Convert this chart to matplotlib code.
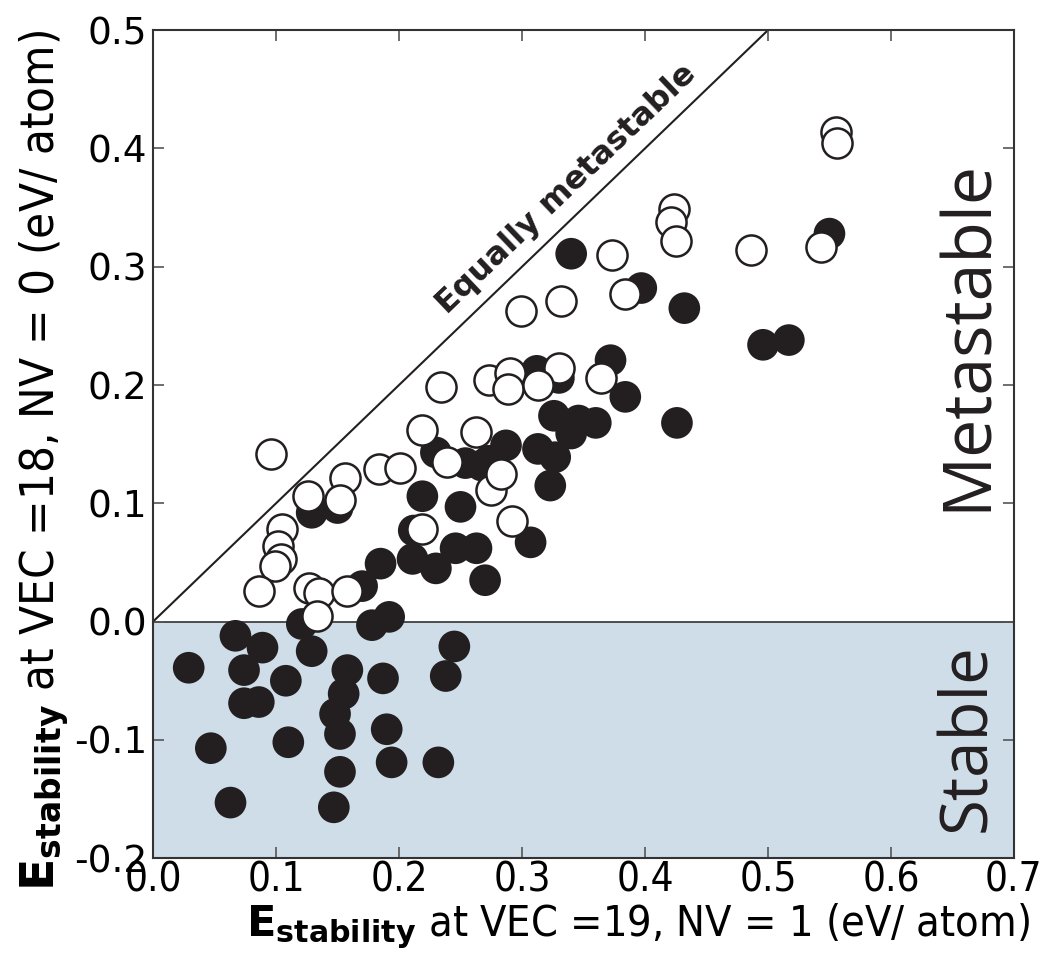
"""Scatter of E_stability at two VEC settings, with stable / metastable regions."""

import matplotlib
matplotlib.use("Agg")
import matplotlib.pyplot as plt

plt.rcParams["axes.unicode_minus"] = False
plt.rcParams["mathtext.fontset"] = "dejavusans"

# filled markers (x: VEC=19, y: VEC=18)
filled_x = [0.029, 0.067, 0.089, 0.074, 0.108, 0.074, 0.086, 0.047, 0.110, 0.063,
            0.121, 0.129, 0.158, 0.155, 0.148, 0.152, 0.152, 0.147, 0.178, 0.192,
            0.187, 0.190, 0.194, 0.232, 0.245, 0.238,
            0.129, 0.150, 0.219, 0.250, 0.230, 0.254, 0.267, 0.212, 0.211, 0.185,
            0.230, 0.246, 0.263, 0.270, 0.170, 0.307,
            0.340, 0.397, 0.432, 0.312, 0.330, 0.372, 0.384, 0.426, 0.326, 0.346,
            0.360, 0.313, 0.327, 0.340, 0.323, 0.287, 0.273,
            0.550, 0.496, 0.517]
filled_y = [-0.039, -0.012, -0.022, -0.041, -0.050, -0.069, -0.068, -0.107, -0.102, -0.153,
            -0.002, -0.025, -0.041, -0.061, -0.078, -0.095, -0.127, -0.157, -0.003, 0.004,
            -0.048, -0.091, -0.119, -0.119, -0.021, -0.046,
            0.092, 0.096, 0.106, 0.097, 0.143, 0.134, 0.132, 0.077, 0.053, 0.049,
            0.045, 0.062, 0.062, 0.035, 0.030, 0.067,
            0.311, 0.282, 0.265, 0.212, 0.206, 0.221, 0.190, 0.168, 0.174, 0.170,
            0.168, 0.146, 0.139, 0.159, 0.115, 0.149, 0.136,
            0.328, 0.234, 0.238]

# open markers
open_x = [0.096, 0.126, 0.156, 0.152, 0.105, 0.102, 0.104, 0.099, 0.086, 0.127,
          0.135, 0.133, 0.158, 0.184, 0.201, 0.219, 0.263, 0.239, 0.219, 0.275,
          0.234, 0.292,
          0.424, 0.421, 0.425, 0.373, 0.384, 0.332, 0.299, 0.273, 0.290, 0.289,
          0.330, 0.313, 0.364, 0.283,
          0.555, 0.556, 0.486, 0.543]
open_y = [0.142, 0.106, 0.121, 0.103, 0.078, 0.064, 0.053, 0.047, 0.026, 0.028,
          0.024, 0.005, 0.026, 0.129, 0.130, 0.162, 0.160, 0.135, 0.078, 0.111,
          0.198, 0.085,
          0.349, 0.338, 0.322, 0.310, 0.277, 0.271, 0.263, 0.204, 0.210, 0.197,
          0.214, 0.200, 0.206, 0.125,
          0.414, 0.405, 0.314, 0.317]

x_ticks = [0.0, 0.1, 0.2, 0.3, 0.4, 0.5, 0.6, 0.7]
y_ticks = [-0.2, -0.1, 0.0, 0.1, 0.2, 0.3, 0.4, 0.5]

fig = plt.figure(figsize=(10.41, 9.73), dpi=100)
ax = fig.add_axes([0.147, 0.118, 0.827, 0.851])

ax.set_xlim(0.0, 0.7)
ax.set_ylim(-0.2, 0.5)

# stable region shading and "equally metastable" diagonal
ax.axhspan(-0.2, 0.0, color="#cfdde8", zorder=0)
ax.axhline(0.0, color="#333333", lw=1.2, zorder=1)
ax.plot([0.0, 0.7], [0.0, 0.7], color="#231f20", lw=1.5, zorder=1)

ax.scatter(filled_x, filled_y, s=520, color="#231f20", edgecolors="none", zorder=2)
ax.scatter(open_x, open_y, s=470, facecolors="white", edgecolors="#231f20",
           linewidths=1.8, zorder=3)

ax.text(0.345, 0.356, "Equally metastable", rotation=43.7, rotation_mode="anchor",
        ha="center", va="bottom", fontsize=23, fontweight="bold", color="#231f20",
        family="DejaVu Sans")
ax.text(0.663, 0.242, "Metastable", rotation=90, ha="center", va="center",
        fontsize=49, color="#231f20", family="Open Sans")
ax.text(0.663, -0.098, "Stable", rotation=90, ha="center", va="center",
        fontsize=47, color="#231f20", family="Open Sans")

ax.set_xticks(x_ticks)
ax.set_xticklabels([f"{v:.1f}" for v in x_ticks], family="DejaVu Sans",
                   stretch="condensed", fontsize=29)
ax.set_yticks(y_ticks)
ax.set_yticklabels([f"{v:.1f}" for v in y_ticks], family="DejaVu Sans", fontsize=27)
ax.tick_params(direction="in", length=8, width=1.2, top=True, right=True,
               color="#555555", pad=4)
ax.tick_params(axis="x", pad=2)

for sp in ax.spines.values():
    sp.set_linewidth(1.5)
    sp.set_color("#333333")

ax.set_xlabel(r"$\mathbf{E}_{\mathbf{stability}}$ at VEC =19, NV = 1 (eV/ atom)",
              family="DejaVu Sans", stretch="condensed", fontsize=31,
              x=1.018, ha="right", labelpad=0)
ax.set_ylabel(r"$\mathbf{E}_{\mathbf{stability}}$ at VEC =18, NV = 0 (eV/ atom)",
              family="DejaVu Sans", stretch="condensed", fontsize=34,
              y=0.48, labelpad=2)

fig.savefig("out.png", dpi=100)
